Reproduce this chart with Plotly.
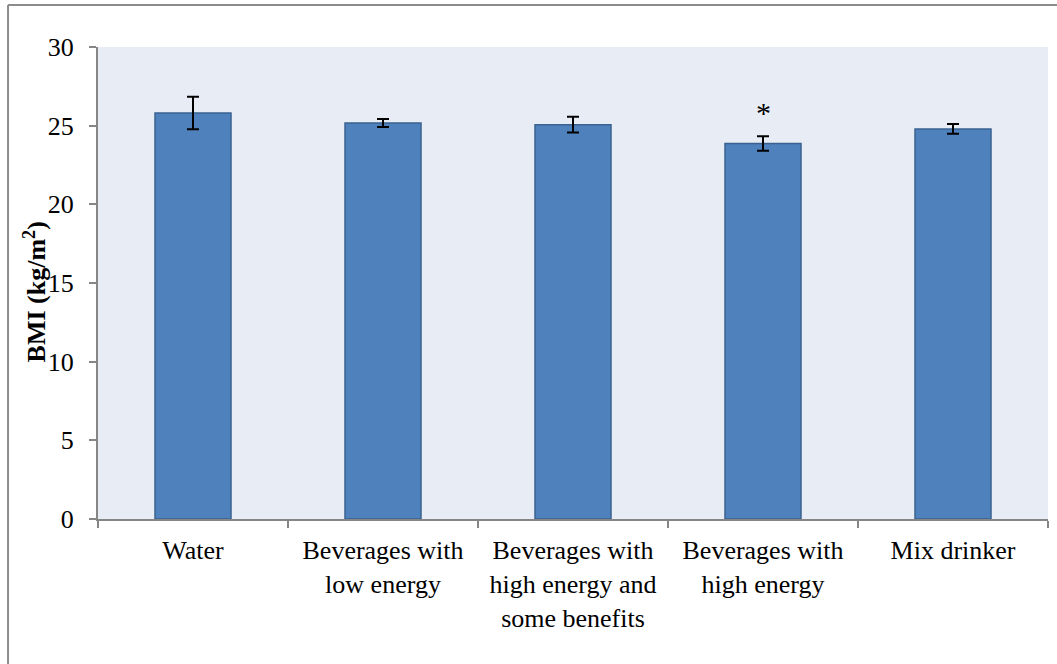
import plotly.graph_objects as go

categories = ["Water", "Beverages with<br>low energy", "Beverages with<br>high energy and<br>some benefits",
              "Beverages with<br>high energy", "Mix drinker"]
bmi_mean = [25.8, 25.17, 25.06, 23.86, 24.79]
bmi_err = [1.03, 0.25, 0.5, 0.46, 0.31]
y_ticks = [0, 5, 10, 15, 20, 25, 30]
sig_marks = ["", "", "", "*", ""]
y_title = "<b>BMI (kg/m<sup>2</sup>)</b>"

FONT = "Liberation Serif"

fig = go.Figure()
fig.add_trace(go.Bar(
    x=categories, y=bmi_mean,
    width=0.4,
    marker=dict(color="#4F81BD", line=dict(color="#3A6290", width=1.5)),
    error_y=dict(type="data", array=bmi_err, visible=True, color="black", thickness=2, width=6),
    showlegend=False,
))

for cat, m, e, s in zip(categories, bmi_mean, bmi_err, sig_marks):
    if s:
        fig.add_annotation(x=cat, y=m + e, text=s, showarrow=False, yanchor="bottom", yshift=5,
                           font=dict(family=FONT, size=30, color="black"))

# y-axis title
fig.add_annotation(xref="paper", yref="paper", x=-0.0663, y=0.48, text=y_title, textangle=-90,
                   showarrow=False, xanchor="center", yanchor="middle",
                   font=dict(family=FONT, size=26, color="black"))

# outer frame (top and left edges visible)
fig.add_shape(type="line", xref="paper", yref="paper", x0=-0.0947, x1=1.02, y0=1.089, y1=1.089,
              line=dict(color="#8C8C8C", width=2))
fig.add_shape(type="line", xref="paper", yref="paper", x0=-0.0947, x1=-0.0947, y0=-0.32, y1=1.089,
              line=dict(color="#8C8C8C", width=2))

fig.update_layout(
    width=1057, height=664,
    margin=dict(l=98, r=9, t=47, b=145),
    paper_bgcolor="white",
    plot_bgcolor="#E8ECF5",
    font=dict(family=FONT, size=26, color="black"),
    bargap=0.6,
)
fig.update_xaxes(
    automargin=False,
    showline=True, linecolor="#868686", linewidth=2,
    ticks="outside", tickson="boundaries", ticklen=7, tickcolor="#868686", tickwidth=2,
    showgrid=False, tickfont=dict(family=FONT, size=26), ticklabelstandoff=7,
)
fig.update_yaxes(
    automargin=False,
    range=[0, 30], tickvals=y_ticks, showline=True, linecolor="#868686", linewidth=2,
    ticks="outside", ticklen=7, tickcolor="#868686", tickwidth=2, showgrid=False, zeroline=False,
    tickfont=dict(family=FONT, size=26), ticklabelstandoff=10,
)

fig.write_html("out.html", config={"displayModeBar": False},
               post_script="document.body.style.margin='0px';")
